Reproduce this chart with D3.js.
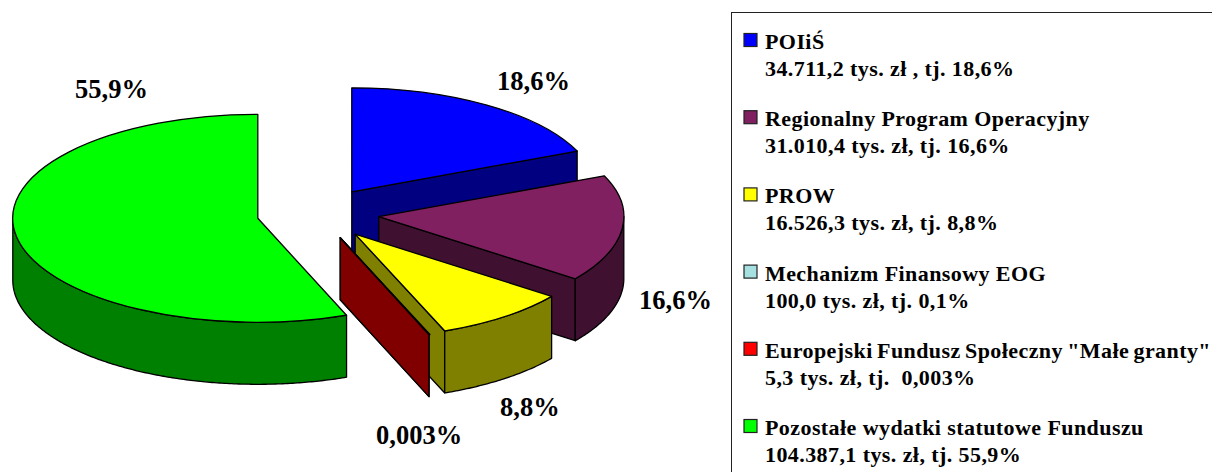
<!DOCTYPE html>
<html>
<head>
<meta charset="utf-8">
<script src="https://cdn.jsdelivr.net/npm/d3@7"></script>
<style>
html, body { margin: 0; padding: 0; background: #fff; overflow: hidden; }
text { font-family: "Liberation Serif", serif; font-weight: bold; fill: #000; }
</style>
</head>
<body>
<div id="chart"></div>
<script>
// values in tys. zl
var names = [
	"POIiŚ",
	"Regionalny Program Operacyjny",
	"PROW",
	"Mechanizm Finansowy EOG",
	'Europejski Fundusz Społeczny "Małe granty"',
	"Pozostałe wydatki statutowe Funduszu",
];
var values = [34711.2, 31010.4, 16526.3, 100.0, 5.3, 104387.1];
var details = [
	"34.711,2 tys. zł , tj. 18,6%",
	"31.010,4 tys. zł, tj. 16,6%",
	"16.526,3 tys. zł, tj. 8,8%",
	"100,0 tys. zł, tj. 0,1%",
	"5,3 tys. zł, tj.  0,003%",
	"104.387,1 tys. zł, tj. 55,9%",
];
var pctLabels = ["18,6%", "16,6%", "8,8%", "", "0,003%", "55,9%"];

var topColors = ["#0000ff", "#802060", "#ffff00", "#a6e0e0", "#ff0000", "#00ff00"];
var sideColors = ["#000080", "#401030", "#808000", "#537070", "#800000", "#008000"];

var width = 1212;
var height = 472;

var svg = d3
	.select("#chart")
	.append("svg")
	.attr("width", width)
	.attr("height", height)
	.style("display", "block");

// pie geometry
var cx = 318;
var cy = 213.5;
var rx = 245;
var ry = 104;
var depth = 62;
var explode = 0.25;

var pie = d3.pie().sort(null).startAngle(0).endAngle(2 * Math.PI);
var slices = pie(values);

var unitArc = d3.arc().innerRadius(0).outerRadius(1);
var line = d3.line();

function apex(s) {
	var mid = (s.startAngle + s.endAngle) / 2;
	return [cx + explode * rx * Math.sin(mid), cy - explode * ry * Math.cos(mid)];
}

function rimPoint(s, a) {
	var c = apex(s);
	return [c[0] + rx * Math.sin(a), c[1] - ry * Math.cos(a)];
}

// outer wall, only the part of the rim that faces the viewer
function wallPath(s) {
	var a0 = Math.max(s.startAngle, Math.PI / 2);
	var a1 = Math.min(s.endAngle, (3 * Math.PI) / 2);
	// hairline slices have no wall worth drawing
	if (a1 - a0 < 0.02) return null;
	var n = Math.ceil((a1 - a0) / 0.01);
	var upper = d3.range(n + 1).map((k) => rimPoint(s, a0 + ((a1 - a0) * k) / n));
	var lower = upper.map((p) => [p[0], p[1] + depth]).reverse();
	return line(upper.concat(lower)) + "Z";
}

// cut face along the end radius of the slice
function facePath(s) {
	var c = apex(s);
	var r = rimPoint(s, s.endAngle);
	return line([c, r, [r[0], r[1] + depth], [c[0], c[1] + depth]]) + "Z";
}

var pieGroup = svg.append("g");

slices.forEach(function (s, i) {
	var c = apex(s);
	var g = pieGroup
		.append("g")
		.attr("stroke", "#000")
		.attr("stroke-width", 1.3)
		.attr("stroke-linejoin", "round");

	// the green slice has its end radius at the back, no cut face to show
	if (s.endAngle < Math.PI) {
		g.append("path").attr("d", facePath(s)).attr("fill", sideColors[i]);
	}
	var wall = wallPath(s);
	if (wall) {
		g.append("path").attr("d", wall).attr("fill", sideColors[i]);
	}
	g.append("path")
		.attr("d", unitArc(s))
		.attr("transform", `translate(${c[0]},${c[1]}) scale(${rx},${ry})`)
		.attr("vector-effect", "non-scaling-stroke")
		.attr("fill", topColors[i]);
});

// percent labels, placed by hand as in the original
var labelPos = [
	[497, 90],
	[639, 309],
	[500, 416],
	null,
	[376, 444],
	[75, 98],
];
svg
	.append("g")
	.selectAll("text")
	.data(pctLabels)
	.enter()
	.filter((d) => d !== "")
	.append("text")
	.text((d) => d)
	.attr("x", (d) => labelPos[pctLabels.indexOf(d)][0])
	.attr("y", (d) => labelPos[pctLabels.indexOf(d)][1])
	.attr("font-size", "26.5px");

// legend box runs off the right and bottom of the picture
svg
	.append("rect")
	.attr("x", 731.5)
	.attr("y", 12.5)
	.attr("width", 600)
	.attr("height", 600)
	.attr("fill", "#fff")
	.attr("stroke", "#222")
	.attr("stroke-width", 1);

var legendY = d3.scalePoint().domain(d3.range(names.length)).range([49, 435]);

var legend = svg
	.append("g")
	.selectAll("g")
	.data(names)
	.enter()
	.append("g")
	.attr("transform", (d, i) => `translate(0,${legendY(i)})`);

legend
	.append("rect")
	.attr("x", 744)
	.attr("y", -15.5)
	.attr("width", 13)
	.attr("height", 13)
	.attr("fill", (d, i) => topColors[i])
	.attr("stroke", "#222")
	.attr("stroke-width", 1.2);

// the longest name only just fits, its spaces are tighter in the original too
legend
	.append("text")
	.text((d) => d)
	.attr("x", 765)
	.attr("y", 0)
	.attr("font-size", "22px")
	.attr("letter-spacing", 0.42)
	.attr("word-spacing", (d) => (d.length > 40 ? -1.6 : 0));

legend
	.append("text")
	.text((d, i) => details[i])
	.style("white-space", "pre")
	.attr("x", 765)
	.attr("y", 27)
	.attr("font-size", "22px")
	.attr("letter-spacing", 0.42);
</script>
</body>
</html>
